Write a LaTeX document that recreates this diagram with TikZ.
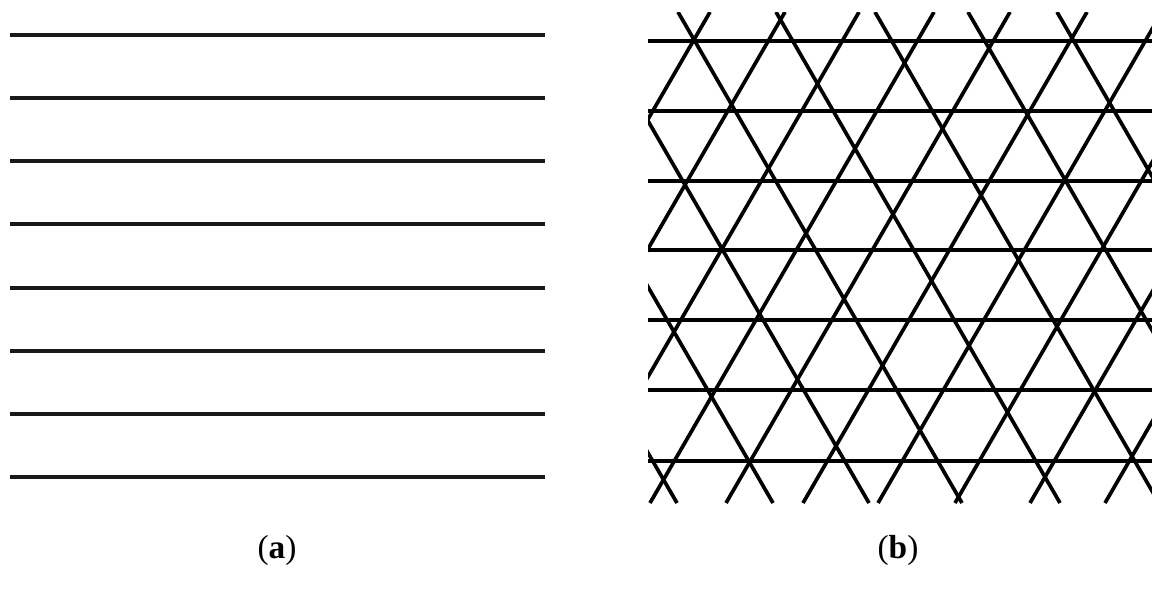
\documentclass[tikz,border=0pt]{standalone}
\usepackage{fontspec}
\setmainfont{Liberation Serif}

\begin{document}
\begin{tikzpicture}[
        x=0.02cm, y=-0.02cm,
        every node/.style = {font=\fontsize{19}{23}\selectfont},
        rule/.style = {line width=1.9pt, black!90},
        grid/.style = {line width=2.1pt, black}
    ]
    \useasboundingbox (0,0) rectangle (1152,589);

    % (a) parallel lines
    \foreach \y in {35,98,161,224,288,351,414,477}
        \draw[rule] (10,\y) -- (545,\y);

    % (b) three families of lines
    \begin{scope}
        \clip (648,12) rectangle (1152,503);
        \foreach \y in {41,111,181,250,320,390,461}
            \draw[grid] (648,\y) -- (1152,\y);
        \foreach \x in {573,648,722,797,873,950,1025,1102,1177,1252}
            \draw[grid] (\x+137,12) -- (\x-147,503);
        \foreach \x in {530,626,722,815,913,1012,1105,1194}
            \draw[grid] (\x-137,12) -- (\x+147,503);
    \end{scope}

    \node (capa) at (277,550) {(\textbf{a})};
    \node (capb) at (898,550) {(\textbf{b})};

\end{tikzpicture}
\end{document}
